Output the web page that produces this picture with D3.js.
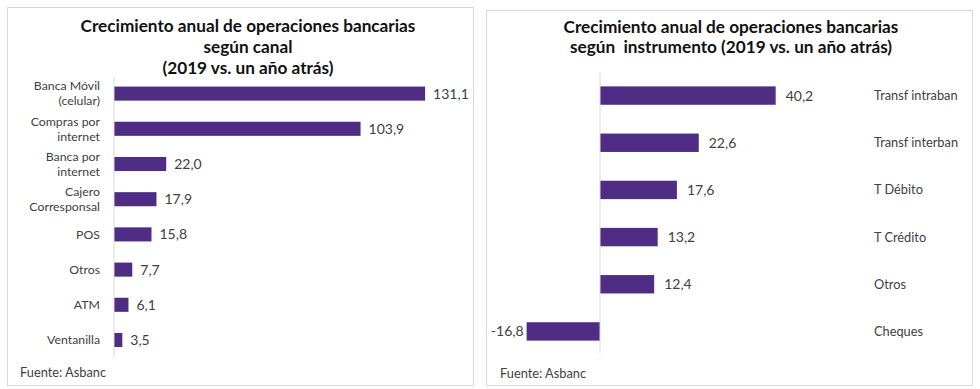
<!DOCTYPE html>
<html>
<head>
<meta charset="utf-8">
<script src="https://cdn.jsdelivr.net/npm/d3@7"></script>
<style>
  html, body { margin: 0; padding: 0; background: #fff; }
  svg { display: block; font-family: Lato, "Open Sans", sans-serif; }
</style>
</head>
<body>
<svg id="chart" width="980" height="389"></svg>
<script>
// ---- Data: left chart (según canal) ----
const canalCategories = [
  ["Banca Móvil", "(celular)"],
  ["Compras por", "internet"],
  ["Banca por", "internet"],
  ["Cajero", "Corresponsal"],
  ["POS"],
  ["Otros"],
  ["ATM"],
  ["Ventanilla"]
];
const canalValues = [131.1, 103.9, 22.0, 17.9, 15.8, 7.7, 6.1, 3.5];
const canalTitle = ["Crecimiento anual de operaciones bancarias", "según canal", "(2019 vs. un año atrás)"];

// ---- Data: right chart (según instrumento) ----
const instrCategories = ["Transf intraban", "Transf interban", "T Débito", "T Crédito", "Otros", "Cheques"];
const instrValues = [40.2, 22.6, 17.6, 13.2, 12.4, -16.8];
const instrTitle = ["Crecimiento anual de operaciones bancarias", "según\u00a0 instrumento (2019 vs. un año atrás)"];

const sourceText = "Fuente: Asbanc";

const BAR = "#502d85";
const TXT = "#404040";
const fmt = v => d3.format(".1f")(v).replace(".", ",").replace("\u2212", "-");

const svg = d3.select("#chart");

// ---------- Panel frames ----------
svg.append("rect").attr("x", 7.5).attr("y", 7.5).attr("width", 466).attr("height", 378)
  .attr("fill", "#fff").attr("stroke", "#d9d9d9");
svg.append("rect").attr("x", 486.5).attr("y", 10.5).attr("width", 486).attr("height", 375)
  .attr("fill", "#fff").attr("stroke", "#d9d9d9");

// ---------- Left chart ----------
{
  const g = svg.append("g");
  const idx = canalValues.map((d, i) => i);
  const x = d3.scaleLinear().domain([0, 140]).range([114, 114 + 140 * 2.373]);
  const y = d3.scaleBand().domain(idx).range([76, 357.6]).paddingInner(0.6).paddingOuter(0.3);

  g.append("text").attr("x", 248).attr("y", 32).attr("text-anchor", "middle")
    .attr("font-weight", "bold").attr("font-size", 17.2).attr("fill", "#111")
    .selectAll("tspan").data(canalTitle).join("tspan")
    .attr("x", 248).attr("dy", (d, i) => i === 0 ? 0 : 21).text(d => d);

  g.selectAll("rect.bar").data(canalValues).join("rect").attr("class", "bar")
    .attr("x", d => x(Math.min(0, d))).attr("width", d => Math.abs(x(d) - x(0)))
    .attr("y", (d, i) => y(i)).attr("height", y.bandwidth()).attr("fill", BAR);

  // axis line (category axis)
  const yAxis = d3.axisLeft(y).tickSize(0).tickFormat(() => "");
  const ax = g.append("g").attr("transform", `translate(${x(0)},0)`).call(yAxis);
  ax.select(".domain").attr("stroke", "#d9d9d9").attr("d", "M0,76.5V357.5");

  // category labels (one text per line)
  const labelLines = [];
  canalCategories.forEach((lines, i) => {
    const cy = y(i) + y.bandwidth() / 2;
    lines.forEach((t, j) => labelLines.push({ t, cy, off: j - (lines.length - 1) / 2 }));
  });
  g.selectAll("text.cat").data(labelLines).join("text").attr("class", "cat")
    .attr("text-anchor", "end").attr("font-size", 12.3).attr("fill", TXT)
    .attr("x", 100).attr("y", d => d.cy + 4.3 + d.off * 14.9).text(d => d.t);

  // value labels
  g.selectAll("text.val").data(canalValues).join("text").attr("class", "val")
    .attr("x", d => x(d) + 8).attr("y", (d, i) => y(i) + y.bandwidth() / 2 + 5)
    .attr("font-size", 14).attr("fill", TXT).text(d => fmt(d));

  g.append("text").attr("x", 20).attr("y", 377).attr("font-size", 12.8).attr("fill", TXT).text(sourceText);
}

// ---------- Right chart ----------
{
  const g = svg.append("g");
  const x = d3.scaleLinear().domain([-20, 45]).range([600 - 20 * 4.37, 600 + 45 * 4.37]);
  const y = d3.scaleBand().domain(instrCategories).range([72, 355]).paddingInner(0.61).paddingOuter(0.305);

  g.append("text").attr("x", 731).attr("y", 33).attr("text-anchor", "middle")
    .attr("font-weight", "bold").attr("font-size", 17.2).attr("fill", "#111")
    .selectAll("tspan").data(instrTitle).join("tspan")
    .attr("x", 731).attr("dy", (d, i) => i === 0 ? 0 : 19.5).text(d => d);

  g.selectAll("rect.bar").data(instrValues).join("rect").attr("class", "bar")
    .attr("x", d => x(Math.min(0, d))).attr("width", d => Math.abs(x(d) - x(0)))
    .attr("y", (d, i) => y(instrCategories[i])).attr("height", y.bandwidth()).attr("fill", BAR);

  const yAxis = d3.axisLeft(y).tickSize(0).tickFormat(() => "");
  const ax = g.append("g").attr("transform", `translate(${x(0)},0)`).call(yAxis);
  ax.select(".domain").attr("stroke", "#d9d9d9").attr("d", "M0,72.5V353.5");

  // category labels (right side)
  g.selectAll("text.cat").data(instrCategories).join("text").attr("class", "cat")
    .attr("x", 874).attr("y", d => y(d) + y.bandwidth() / 2 + 4.5)
    .attr("font-size", 12.8).attr("fill", TXT).text(d => d);

  // value labels
  g.selectAll("text.val").data(instrValues).join("text").attr("class", "val")
    .attr("x", d => d >= 0 ? x(d) + 10 : x(d) - 3)
    .attr("text-anchor", d => d >= 0 ? "start" : "end")
    .attr("y", (d, i) => y(instrCategories[i]) + y.bandwidth() / 2 + 5)
    .attr("font-size", 14).attr("fill", TXT).text(d => fmt(d));

  g.append("text").attr("x", 500).attr("y", 378).attr("font-size", 12.8).attr("fill", TXT).text(sourceText);
}
</script>
</body>
</html>
